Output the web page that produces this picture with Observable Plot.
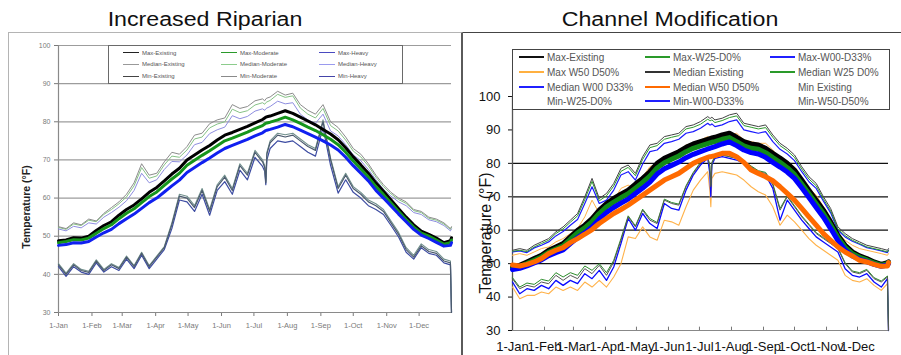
<!DOCTYPE html>
<html><head><meta charset="utf-8">
<script src="https://cdn.jsdelivr.net/npm/d3@7"></script>
<script src="https://cdn.jsdelivr.net/npm/@observablehq/plot@0.6"></script>
<style>
html,body{margin:0;padding:0;background:#fff;}
#root{position:relative;width:901px;height:355px;overflow:hidden;background:#fff;font-family:"Liberation Sans",Arial,sans-serif;}
.abs{position:absolute;}
.title{position:absolute;top:8px;font-size:20px;color:#111;white-space:nowrap;transform:translateX(-50%) scaleX(1.16);transform-origin:center;}
.lg{position:absolute;background:#fff;box-sizing:border-box;}
.sw{position:absolute;height:0;}
.lt{position:absolute;white-space:nowrap;transform:translateY(-50%);}
.ytitle{position:absolute;white-space:nowrap;transform:translate(-50%,-50%) rotate(-90deg);}
</style></head><body><div id="root"></div>
<script>
// ---------- shared axis data ----------
const days = [1,8,15,22,29,36,43,50,57,64,71,78,85,92,99,106,113,120,127,134,141,148,155,162,169,176,183,190,192,193,194,197,204,211,218,225,232,239,246,253,260,267,274,281,288,295,302,309,316,323,330,337,344,351,358,364,365];
const monthDays = [1,32,60,91,121,152,182,213,244,274,305,335];
const monthLabels = ["1-Jan","1-Feb","1-Mar","1-Apr","1-May","1-Jun","1-Jul","1-Aug","1-Sep","1-Oct","1-Nov","1-Dec"];
const yTicks = [30,40,50,60,70,80,90,100];
const leftGrid = [40,50,60,70,80,90,100];
const rightGrid = [50,60,70,80];

// ---------- left: Increased Riparian ----------
const L_maxExisting = [48.8,49.0,49.6,49.5,50.0,51.5,52.8,53.8,55.5,57.0,58.2,59.8,61.5,62.8,64.5,66.3,67.8,70.0,71.3,72.6,73.8,75.2,76.5,77.2,78.0,78.8,79.7,80.6,81.0,81.2,81.3,81.5,82.2,82.9,82.2,81.2,80.2,79.2,78.0,76.8,75.3,73.2,70.8,68.7,66.5,64.0,61.8,59.5,57.2,55.0,53.0,51.3,50.5,49.5,48.3,48.8,49.6];
const L_maxModerate = [48.3,48.6,49.1,49.0,49.5,50.8,52.0,53.0,54.6,56.0,57.2,58.8,60.4,61.6,63.3,65.0,66.5,68.6,69.9,71.2,72.4,73.7,75.0,75.7,76.5,77.3,78.2,79.0,79.4,79.6,79.7,79.9,80.5,81.2,80.5,79.6,78.6,77.7,76.6,75.4,74.0,72.0,69.7,67.6,65.5,63.0,60.9,58.7,56.5,54.4,52.4,50.8,50.0,49.0,47.9,48.3,49.0];
const L_maxHeavy = [47.6,47.8,48.3,48.2,48.6,49.8,50.9,51.8,53.3,54.6,55.8,57.3,58.8,60.0,61.6,63.2,64.7,66.7,68.0,69.3,70.5,71.8,73.0,73.8,74.6,75.4,76.3,77.1,77.5,77.7,77.8,78.0,78.6,79.3,78.7,77.8,76.9,76.0,75.0,73.9,72.6,70.7,68.5,66.5,64.5,62.0,60.0,57.9,55.8,53.8,51.8,50.3,49.4,48.4,47.4,47.6,48.3];
const L_medExisting = [52.5,52.0,53.5,53.0,54.5,54.0,56.0,57.5,59.0,61.0,64.0,69.0,66.0,66.5,69.5,72.0,71.5,73.5,76.5,77.0,79.5,80.5,81.0,84.5,83.5,84.0,85.5,86.0,85.5,86.0,86.2,86.5,88.0,87.0,87.5,84.5,83.0,82.0,84.5,80.0,78.5,76.0,73.0,71.5,69.0,66.0,63.5,61.5,60.0,59.0,57.0,56.5,55.0,54.5,53.5,52.0,52.5];
const L_medModerate = [52.3,51.8,53.2,52.8,54.2,53.8,55.7,57.0,58.5,60.3,63.2,68.0,65.2,65.8,68.7,71.0,70.7,72.6,75.5,76.0,78.4,79.4,80.0,83.3,82.4,82.9,84.4,85.0,84.6,85.0,85.2,85.6,87.2,86.4,86.8,83.6,82.0,81.0,83.5,79.0,77.6,75.2,72.3,70.8,68.4,65.5,63.0,61.1,59.6,58.6,56.7,56.2,54.7,54.2,53.2,51.8,52.3];
const L_medHeavy = [51.9,51.4,52.6,52.2,53.5,53.2,55.0,56.2,57.6,59.3,62.0,66.5,64.0,64.8,67.5,69.6,69.5,71.3,74.0,74.6,76.9,77.9,78.6,81.6,80.8,81.4,82.8,83.4,83.0,83.4,83.6,84.0,85.4,84.7,85.0,82.0,80.5,79.6,82.0,77.6,76.3,74.0,71.3,69.8,67.5,64.8,62.3,60.5,59.0,58.0,56.2,55.7,54.3,53.8,52.8,51.4,51.9];
const L_minExisting = [42.5,40.0,42.5,41.0,40.5,43.5,41.0,42.5,41.5,44.5,42.0,45.5,42.0,44.5,47.0,53.0,60.5,60.0,57.5,62.0,56.5,63.0,65.5,62.0,68.5,66.0,72.0,69.5,68.0,64.0,71.5,74.5,76.5,76.0,76.5,75.0,73.5,72.5,80.0,70.0,62.5,66.0,62.5,61.0,59.0,58.0,56.5,53.5,50.5,46.5,44.5,47.5,46.0,45.5,43.5,43.0,30.0];
const L_minModerate = [42.8,40.3,42.8,41.3,40.8,43.8,41.3,42.8,41.8,44.8,42.3,45.8,42.3,44.8,47.3,53.5,61.0,60.5,58.0,62.5,57.0,63.5,66.0,62.5,69.0,66.5,72.5,70.0,68.5,64.5,72.0,75.0,77.0,76.6,77.0,75.5,74.0,73.0,80.5,70.5,63.0,66.5,63.0,61.5,59.5,58.5,57.0,54.0,51.0,47.0,45.0,48.0,46.5,46.0,44.0,43.5,30.0];
const L_minHeavy = [42.0,39.5,42.0,40.6,40.0,43.0,40.6,42.0,41.0,44.0,41.5,45.0,41.5,44.0,46.5,52.0,59.5,59.0,56.5,61.0,55.5,62.0,64.3,61.0,67.3,64.8,70.7,68.3,67.0,63.5,70.0,73.0,75.0,74.6,75.0,73.5,72.0,71.0,78.5,68.6,61.3,64.8,61.5,60.0,58.0,57.0,55.7,52.8,49.8,45.8,44.0,47.0,45.5,45.0,43.0,42.5,30.0];
const leftNames = ["Max-Existing","Max-Moderate","Max-Heavy","Median-Existing","Median-Moderate","Median-Heavy","Min-Existing","Min-Moderate","Min-Heavy"];

// ---------- right: Channel Modification ----------
const R_maxExisting = [54.0,54.5,54.0,55.5,56.5,57.5,59.5,61.0,63.0,65.0,70.0,75.5,69.5,71.0,74.0,78.5,79.5,77.0,82.0,85.5,86.0,88.0,88.5,89.0,91.0,91.5,92.5,94.0,93.5,93.5,93.8,93.0,93.5,94.5,95.0,92.0,91.5,91.0,91.5,88.5,86.0,84.5,82.5,79.0,76.0,74.0,70.0,66.5,61.0,59.0,57.5,56.5,55.5,55.0,54.5,54.0,54.5];
const R_maxW25 = [53.7,54.0,53.6,55.0,56.0,57.0,59.0,60.4,62.4,64.3,69.2,74.6,68.8,70.3,73.2,77.6,78.8,76.3,81.2,84.7,85.3,87.2,87.8,88.3,90.3,90.8,91.7,93.2,92.8,92.8,93.0,92.2,92.8,93.7,94.2,91.3,90.8,90.3,90.7,87.8,85.3,83.8,81.8,78.3,75.3,73.3,69.3,65.8,60.4,58.4,57.0,56.0,55.0,54.5,54.0,53.5,54.0];
const R_maxW00 = [53.5,53.8,53.3,54.7,55.5,56.5,58.3,59.6,61.5,63.2,68.0,73.0,68.0,69.0,72.0,76.5,77.5,75.0,79.8,83.5,84.0,86.0,86.5,87.2,89.0,89.5,90.5,92.0,91.5,91.5,91.8,91.0,91.5,92.5,93.0,90.0,89.5,89.0,89.5,86.5,84.2,82.8,80.8,77.5,74.5,72.5,68.7,65.2,60.0,58.0,56.7,55.8,54.8,54.3,53.8,53.3,54.0];
const R_maxW50 = [52.5,53.0,52.5,53.5,54.5,55.0,56.5,57.5,59.0,60.5,64.0,69.0,65.0,66.5,69.0,72.5,73.5,72.0,76.0,79.0,80.0,82.0,82.5,83.5,85.5,86.0,87.0,88.0,87.5,87.5,87.8,87.5,88.0,88.5,89.0,87.0,86.5,86.0,86.0,84.0,81.5,80.0,78.0,75.0,72.5,70.5,67.0,63.5,59.0,57.0,55.5,54.5,54.0,53.5,53.0,52.5,53.0];
const R_medExisting = [48.8,49.5,50.5,51.5,52.5,54.0,55.0,56.0,58.0,60.0,61.5,63.5,66.0,68.0,69.5,70.8,72.0,73.8,75.5,77.5,80.0,81.5,82.5,83.5,84.8,85.8,86.5,87.2,87.4,87.5,87.6,87.8,88.5,89.0,87.8,86.5,85.8,85.5,84.5,83.0,81.6,80.0,78.0,75.0,72.0,69.0,66.0,62.5,58.5,55.5,53.5,52.3,51.5,50.5,49.8,50.3,50.5];
const R_medW25 = [48.5,49.1,50.0,51.0,52.0,53.4,54.4,55.3,57.3,59.2,60.7,62.6,65.0,67.0,68.4,69.7,70.9,72.6,74.3,76.2,78.6,80.2,81.2,82.2,83.5,84.5,85.2,85.9,86.1,86.2,86.3,86.5,87.2,87.7,86.5,85.2,84.5,84.2,83.2,81.7,80.3,78.7,76.7,73.8,70.9,67.9,65.0,61.6,57.8,54.9,53.0,51.9,51.1,50.2,49.5,50.0,50.3];
const R_medW00 = [48.2,48.6,49.3,50.2,51.1,52.4,53.3,54.1,56.0,57.8,59.2,61.0,63.3,65.3,66.8,68.1,69.3,71.0,72.6,74.4,76.8,78.4,79.4,80.4,81.7,82.7,83.5,84.3,84.5,84.6,84.7,85.0,85.8,86.4,85.3,84.0,83.2,82.8,81.8,80.3,78.9,77.4,75.5,72.7,69.8,66.8,63.9,60.5,56.9,54.1,52.3,51.3,50.6,49.8,49.2,49.6,50.0];
const R_medW50 = [49.6,49.3,49.8,50.5,51.5,53.0,54.0,54.8,56.3,57.5,58.8,60.2,62.0,63.5,65.0,66.2,67.5,69.0,70.5,72.0,73.5,75.0,76.0,77.0,78.5,80.0,81.0,81.8,82.0,82.0,82.1,82.3,83.0,83.0,82.0,80.3,78.0,77.0,76.0,74.8,73.0,71.0,69.0,66.5,64.0,61.5,59.0,57.0,55.0,53.5,52.3,51.0,50.5,49.8,49.2,49.3,50.3];
const R_minExisting = [45.5,42.5,43.5,43.0,44.5,44.0,46.5,45.0,46.5,45.5,48.5,47.0,49.5,46.5,50.5,57.0,64.0,61.0,66.0,63.0,62.0,69.0,68.0,67.5,73.0,77.0,80.0,82.0,79.0,73.0,80.0,82.0,82.5,82.0,81.5,80.5,79.0,77.5,77.0,73.5,66.0,70.0,67.0,64.0,61.5,59.0,57.5,56.0,54.5,50.0,47.5,47.0,48.0,45.5,44.5,46.0,30.0];
const R_minW25 = [45.8,43.0,44.2,43.8,45.3,44.8,47.3,46.0,47.3,46.5,49.3,48.0,50.0,47.3,51.0,57.5,64.3,61.3,66.3,63.5,62.3,69.3,68.3,67.8,73.3,77.3,80.3,82.0,79.3,73.5,80.3,82.2,82.5,82.0,81.5,80.7,79.2,77.8,77.3,74.0,66.5,70.3,67.3,64.3,61.8,59.3,57.8,56.3,54.8,50.3,47.8,47.3,48.3,45.8,44.8,46.3,30.0];
const R_minW00 = [44.5,41.0,42.5,42.0,43.5,42.5,45.0,43.5,45.0,44.0,47.0,45.5,48.0,45.0,49.0,56.0,63.5,60.0,65.0,62.0,60.5,68.0,66.5,66.0,72.0,76.5,79.5,81.5,77.0,70.0,79.5,81.5,82.0,81.5,81.0,80.0,78.5,77.0,76.5,72.5,63.0,69.0,66.0,63.0,60.5,58.0,56.5,55.0,53.5,48.5,46.5,46.0,47.0,44.5,43.0,45.5,30.0];
const R_minW50 = [43.0,39.5,40.5,40.5,41.5,41.0,43.0,42.0,43.0,42.0,44.5,43.0,45.0,43.0,46.0,50.0,58.0,57.5,61.0,58.0,57.0,63.0,62.5,61.5,67.0,72.0,75.0,77.5,72.0,67.0,75.5,77.0,77.5,77.0,76.5,75.0,73.0,71.5,70.5,67.0,61.5,64.5,62.5,60.0,57.5,55.5,54.0,52.5,51.0,46.5,45.0,44.5,45.5,43.5,42.0,44.0,30.0];
const rightNames = ["Max-Existing","Max-W25-D0%","Max-W00-D33%","Max W50 D50%","Median Existing","Median W25 D0%","Median W00 D33%","Median W50 D50%","Min Existing","Min-W25-D0%","Min-W00-D33%","Min-W50-D50%"];

// ---------- styles (kept apart from the data) ----------
const leftStyle = {
  "Max-Existing":["#000000",3], "Max-Moderate":["#16951c",3], "Max-Heavy":["#1020f0",3],
  "Median-Existing":["#8c8c8c",1], "Median-Moderate":["#86c286",1], "Median-Heavy":["#8e8ee0",1],
  "Min-Existing":["#4b5a6e",1.2], "Min-Moderate":["#71908c",1.1], "Min-Heavy":["#3d4ca2",1.2]
};
const leftLegendColor = {
  "Max-Existing":"#222", "Max-Moderate":"#2a9a2a", "Max-Heavy":"#4a4ac0",
  "Median-Existing":"#999", "Median-Moderate":"#8ccc8c", "Median-Heavy":"#9a9aee",
  "Min-Existing":"#444", "Min-Moderate":"#8a8a8a", "Min-Heavy":"#4444a8"
};
const rightStyle = {
  "Max-Existing":["#444444",1], "Max-W25-D0%":["#2e9a2e",1], "Max-W00-D33%":["#1a1aff",1.2], "Max W50 D50%":["#ffb24a",1],
  "Median Existing":["#000000",5], "Median W25 D0%":["#118a18",5], "Median W00 D33%":["#0000ff",5], "Median W50 D50%":["#ff6a00",5],
  "Min Existing":["#555555",1], "Min-W25-D0%":["#2a8c2a",1], "Min-W00-D33%":["#0a0aff",1.3], "Min-W50-D50%":["#ffb24a",1.1]
};
const rightLegendColor = {
  "Max-Existing":"#111", "Max-W25-D0%":"#2a9a2a", "Max-W00-D33%":"#2020ff", "Max W50 D50%":"#ffb040",
  "Median Existing":"#333", "Median W25 D0%":"#2a9a2a", "Median W00 D33%":"#2020ff", "Median W50 D50%":"#ff6a00",
  "Min Existing":null, "Min-W25-D0%":null, "Min-W00-D33%":"#2020ff", "Min-W50-D50%":null
};

const root = document.getElementById("root");
function el(tag, cls, css, text) {
  const e = document.createElement(tag);
  if (cls) e.className = cls;
  Object.assign(e.style, css || {});
  if (text != null) e.textContent = text;
  root.appendChild(e);
  return e;
}

// frames
el("div", "abs", {left:"8px", top:"32px", width:"455px", height:"340px", boxSizing:"border-box",
  borderLeft:"1.5px solid #b4b4b4", borderTop:"1.5px solid #b4b4b4", borderRight:"2.5px solid #5a5a5a"});
el("div", "abs", {left:"463px", top:"32px", width:"438px", height:"0", borderTop:"1.2px solid #444"});

const leftSeries = [L_maxExisting,L_maxModerate,L_maxHeavy,L_medExisting,L_medModerate,L_medHeavy,L_minExisting,L_minModerate,L_minHeavy];
const rightSeries = [R_maxExisting,R_maxW25,R_maxW00,R_maxW50,R_medExisting,R_medW25,R_medW00,R_medW50,R_minExisting,R_minW25,R_minW00,R_minW50];

const fontFam = "'Liberation Sans', Arial, sans-serif";
const mLabel = d => monthLabels[monthDays.indexOf(d)];

// left drawing order: min, median (thin top), then thick
const leftOrder = [8,7,6,5,4,3,0,1,2];
const leftPlot = Plot.plot({
  width: 455, height: 323,
  marginLeft: 50, marginRight: 12, marginTop: 13, marginBottom: 43,
  x: {domain: [1, 365]},
  y: {domain: [30, 100]},
  style: {fontFamily: fontFam, background: "transparent", overflow: "visible"},
  marks: [
    Plot.ruleY(leftGrid, {stroke: "#9c9c9c", strokeWidth: 1.2}),
    Plot.axisY({ticks: yTicks, tickSize: 4, tickPadding: 4, fontSize: 7, label: null, color: "#7a7a7a"}),
    Plot.axisX({ticks: monthDays, tickFormat: mLabel, tickSize: 4, tickPadding: 6, fontSize: 7.5, label: null, color: "#7a7a7a"}),
    Plot.ruleX([1], {stroke: "#8a8a8a", strokeWidth: 1.2}),
    Plot.ruleY([30], {stroke: "#8a8a8a", strokeWidth: 1.2}),
    ...leftOrder.map(i => Plot.lineY(leftSeries[i], {x: days, stroke: leftStyle[leftNames[i]][0], strokeWidth: leftStyle[leftNames[i]][1]}))
  ]
});
Object.assign(leftPlot.style, {position: "absolute", left: "8px", top: "32px"});
root.appendChild(leftPlot);

// right drawing order: min, max (thin), then thick black, green, blue, orange
const rightOrder = [11,10,9,8,3,2,1,0,4,5,6,7];
const rightPlot = Plot.plot({
  width: 436, height: 322,
  marginLeft: 47, marginRight: 13, marginTop: 63, marginBottom: 25,
  x: {domain: [1, 365]},
  y: {domain: [30, 100]},
  style: {fontFamily: fontFam, background: "transparent", overflow: "visible"},
  marks: [
    Plot.ruleY(rightGrid, {stroke: "#111", strokeWidth: 1.3}),
    Plot.axisY({ticks: yTicks, tickSize: 4, tickPadding: 8, fontSize: 13, label: null, color: "#111"}),
    Plot.axisX({ticks: monthDays, tickFormat: mLabel, tickSize: 0, tickPadding: 11, fontSize: 13, label: null, color: "#111"}),
    Plot.ruleX(monthDays.slice(1), {y1: 30, y2: 31, stroke: "#777"}),
    Plot.ruleX([1], {stroke: "#555", strokeWidth: 1.3}),
    Plot.ruleY([30], {stroke: "#888", strokeWidth: 1.2}),
    ...rightOrder.map(i => Plot.lineY(rightSeries[i], {x: days, stroke: rightStyle[rightNames[i]][0], strokeWidth: rightStyle[rightNames[i]][1]}))
  ]
});
Object.assign(rightPlot.style, {position: "absolute", left: "465px", top: "33px"});
root.appendChild(rightPlot);

// titles
el("div", "title", {left: "205px"}, "Increased Riparian");
el("div", "title", {left: "670px"}, "Channel Modification");

// axis titles
el("div", "ytitle", {left: "26px", top: "207px", fontSize: "10.5px", fontWeight: "bold", color: "#222"}, "Temperature (°F)");
el("div", "ytitle", {left: "486px", top: "233px", fontSize: "16px", color: "#111"}, "Temperature (°F)");

// legends
function legend(box, names, colors, cols, rows, swLen, swW, fs, tc) {
  el("div", "lg", box);
  names.forEach((n, i) => {
    const c = i % 3, r = Math.floor(i / 3);
    if (colors[n]) el("div", "sw", {left: cols[c] + "px", top: (rows[r] - swW / 2) + "px", width: swLen + "px", borderTop: swW + "px solid " + colors[n]});
    el("div", "lt", {left: (cols[c] + swLen + 3) + "px", top: rows[r] + "px", fontSize: fs + "px", color: tc}, n);
  });
}
legend({left: "108px", top: "45px", width: "295px", height: "39px", border: "1.6px solid #6a6a6a"},
  leftNames, leftLegendColor, [123, 221, 319], [52.5, 64.3, 76], 16, 1, 6, "#555");
legend({left: "512px", top: "49px", width: "378px", height: "61px", border: "1.6px solid #444"},
  rightNames, rightLegendColor, [519, 645, 770], [57, 72, 86.5, 101], 25, 2, 10, "#555");
</script>
</body></html>
